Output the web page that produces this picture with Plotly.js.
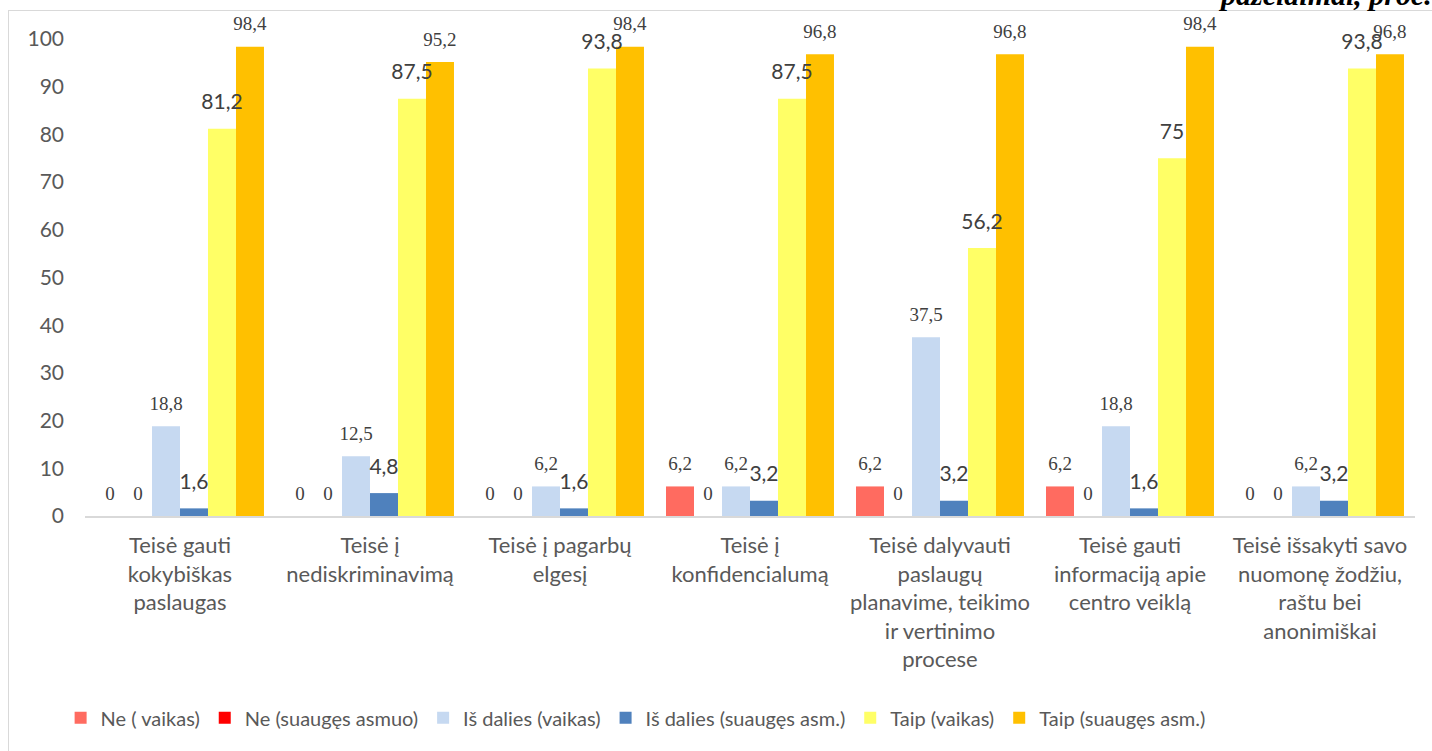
<!DOCTYPE html>
<html><head><meta charset="utf-8">
<script src="https://cdn.plot.ly/plotly-3.0.1.min.js"></script>
<style>
html,body{margin:0;padding:0;background:#fff;overflow:hidden}
#frame{position:absolute;left:8px;top:10px;width:1500px;height:800px;border:1.5px solid #d9d9d9;box-sizing:border-box}
#chart{position:absolute;left:0;top:0;width:1432px;height:751px}
</style></head><body>
<div id="frame"></div><div id="chart"></div>
<script>
const categories = [
  'Teisė gauti<br>kokybiškas<br>paslaugas',
  'Teisė į<br>nediskriminavimą',
  'Teisė į pagarbų<br>elgesį',
  'Teisė į<br>konfidencialumą',
  'Teisė dalyvauti<br>paslaugų<br>planavime, teikimo<br>ir vertinimo<br>procese',
  'Teisė gauti<br>informaciją apie<br>centro veiklą',
  'Teisė išsakyti savo<br>nuomonę žodžiu,<br>raštu bei<br>anonimiškai'
];
const seriesNames = ['Ne ( vaikas)', 'Ne (suaugęs asmuo)', 'Iš dalies (vaikas)', 'Iš dalies (suaugęs asm.)', 'Taip (vaikas)', 'Taip (suaugęs asm.)'];
const neVaikas        = [0, 0, 0, 6.2, 6.2, 6.2, 0];
const neSuauges       = [0, 0, 0, 0, 0, 0, 0];
const isDaliesVaikas  = [18.8, 12.5, 6.2, 6.2, 37.5, 18.8, 6.2];
const isDaliesSuauges = [1.6, 4.8, 1.6, 3.2, 3.2, 1.6, 3.2];
const taipVaikas      = [81.2, 87.5, 93.8, 87.5, 56.2, 75, 93.8];
const taipSuauges     = [98.4, 95.2, 98.4, 96.8, 96.8, 98.4, 96.8];
const yTicks = [0, 10, 20, 30, 40, 50, 60, 70, 80, 90, 100];
const titleText = 'pažeidimai, proc.';

const seriesValues = [neVaikas, neSuauges, isDaliesVaikas, isDaliesSuauges, taipVaikas, taipSuauges];
const colors = ['#FF6B60', '#FF0000', '#C6D9F1', '#4F81BD', '#FFFF66', '#FFC000'];
const serifFont = {family: '"Liberation Serif", "Times New Roman", serif', size: 19, color: '#404040'};
const sansFont = {family: 'Lato, "Open Sans", sans-serif', size: 21, color: '#404040'};
const labelFonts = [serifFont, serifFont, serifFont, sansFont, sansFont, serifFont];
const labelPad = [17, 17, 17, 21, 21, 17];
const GAP = 0.116;

const fmt = v => String(v).replace('.', ',');

const barTraces = seriesValues.map((vals, i) => ({
  type: 'bar',
  name: seriesNames[i],
  x: categories,
  y: vals,
  marker: {color: colors[i]},
  hoverinfo: 'skip'
}));

const labelTraces = seriesValues.map((vals, i) => ({
  type: 'scatter',
  mode: 'markers+text',
  x: categories,
  y: vals,
  text: vals.map(fmt),
  textposition: 'top center',
  textfont: labelFonts[i],
  marker: {size: labelPad[i], opacity: 0, color: colors[i]},
  cliponaxis: false,
  showlegend: false,
  hoverinfo: 'skip'
}));

const layout = {
  width: 1432, height: 751,
  paper_bgcolor: 'rgba(0,0,0,0)',
  plot_bgcolor: 'rgba(0,0,0,0)',
  margin: {l: 85, r: 17, t: 39, b: 235},
  barmode: 'group',
  bargap: GAP,
  bargroupgap: 0,
  scattermode: 'group',
  scattergap: GAP,
  showlegend: true,
  annotations: [{
    text: '<b><i>' + titleText + '</i></b>',
    font: {family: '"Liberation Serif", "Times New Roman", serif', size: 30, color: '#000'},
    xref: 'paper', yref: 'paper',
    x: 0.85, xanchor: 'left', y: 1, yanchor: 'bottom',
    yshift: 26, showarrow: false
  }],
  xaxis: {
    type: 'category',
    showgrid: false,
    showline: true, linecolor: '#D9D9D9', linewidth: 1.5,
    ticks: '',
    ticklabelstandoff: 9,
    tickfont: {family: 'Lato, "Open Sans", sans-serif', size: 22, color: '#595959'},
    tickangle: 0,
    automargin: false
  },
  yaxis: {
    range: [0, 100],
    tickvals: yTicks,
    ticktext: yTicks.map(String),
    showgrid: false,
    zeroline: false,
    showline: false,
    ticks: '',
    ticklabelstandoff: 20,
    tickfont: {family: 'Lato, "Open Sans", sans-serif', size: 21, color: '#595959'},
    automargin: false
  },
  legend: {
    orientation: 'h',
    x: 0.414, xanchor: 'center',
    y: -0.423, yanchor: 'middle',
    font: {family: 'Lato, "Open Sans", sans-serif', size: 20, color: '#595959'},
    itemwidth: 30,
    traceorder: 'normal',
    bgcolor: 'rgba(0,0,0,0)'
  }
};

Plotly.newPlot('chart', barTraces.concat(labelTraces), layout, {displayModeBar: false, staticPlot: true});
</script>
</body></html>
